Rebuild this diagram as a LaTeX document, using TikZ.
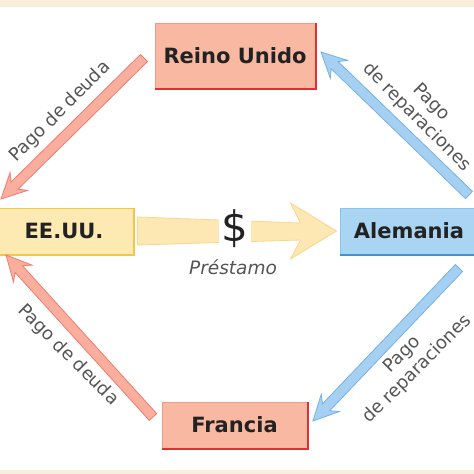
\documentclass[tikz,border=0pt]{standalone}
\usepackage{fontspec}
\setmainfont{DejaVu Sans}
\usetikzlibrary{calc}
\definecolor{beige}{HTML}{F7EFD9}
\definecolor{redfill}{HTML}{F8B8A2}
\definecolor{redline}{HTML}{F29A88}
\definecolor{redshadow}{HTML}{E42D35}
\definecolor{yelfill}{HTML}{FDE9B2}
\definecolor{yelline}{HTML}{F6C447}
\definecolor{bluefill}{HTML}{A9D4F2}
\definecolor{blueline}{HTML}{8CC2EC}
\definecolor{blueshadow}{HTML}{3F93D6}
\definecolor{rarrfill}{HTML}{F9AE9E}
\definecolor{rarrline}{HTML}{F07C6E}
\definecolor{barrfill}{HTML}{A6D0F2}
\definecolor{barrline}{HTML}{74B2E6}
\definecolor{yarrfill}{HTML}{FDE8B4}
\definecolor{yarrline}{HTML}{F9D68C}
\definecolor{labelgray}{HTML}{555555}
\definecolor{boxtext}{HTML}{222222}
\newcommand\fatarrow[4]{%
  \coordinate (fa-h) at ($(#2)!19pt!(#1)$);
  \coordinate (fa-b) at ($(#2)!25pt!(#1)$);
  \path[fill=#3,draw=#4,line width=0.8pt,line join=miter]
    ($(#1)!5pt!90:(#2)$) -- ($(fa-h)!5pt!90:(#2)$) -- ($(fa-b)!12.5pt!90:(#2)$)
    -- (#2) -- ($(fa-b)!12.5pt!-90:(#2)$) -- ($(fa-h)!5pt!-90:(#2)$)
    -- ($(#1)!5pt!-90:(#2)$) -- cycle;}
\tikzset{
  country/.style={font=\fontsize{21}{24}\selectfont\bfseries, text=boxtext,
    inner sep=0pt, line width=1pt},
  redbox/.style={country, fill=redfill, draw=redline},
  yelbox/.style={country, fill=yelfill, draw=yelline},
  bluebox/.style={country, fill=bluefill, draw=blueline},
  lbl/.style={font=\fontsize{18}{21}\selectfont, text=labelgray, align=center, inner sep=0pt}
}
\begin{document}
\begin{tikzpicture}[x=1pt,y=-1pt]
\useasboundingbox (0,0) rectangle (474,474);
\fill[white] (0,0) rectangle (474,474);
\fill[beige] (0,0) rectangle (474,7);
\fill[beige] (0,470) rectangle (474,474);
% boxes
\node[redbox, minimum width=160pt, minimum height=65pt] (ru) at (235,55.5) {Reino Unido};
\node[yelbox, minimum width=138pt, minimum height=46pt] (us) at (64,231) {EE.UU.};
\node[bluebox, minimum width=138pt, minimum height=46pt] (de) at (409,231) {Alemania};
\node[redbox, minimum width=145pt, minimum height=46pt] (fr) at (234.5,425) {Francia};
\draw[redshadow, line width=2pt] (ru.south west) -- (ru.south east) -- (ru.north east);
\draw[redshadow, line width=2pt] (fr.south west) -- (fr.south east) -- (fr.north east);
\draw[yelline, line width=2pt] (us.south west) -- (us.south east) -- (us.north east);
\draw[blueshadow, line width=2pt] (de.south west) -- (de.south east);
% loan arrow
\path[fill=yarrfill, draw=yarrline, line width=0.8pt, line join=miter]
  ($(us.east)+(4,-14)$) -- ($(us.east)+(167,-8)$) -- ($(us.east)+(157,-28)$)
  -- ($(de.west)+(-3,0)$) -- ($(us.east)+(157,28)$) -- ($(us.east)+(167,9)$)
  -- ($(us.east)+(4,14)$) -- cycle;
\node[font=\fontsize{42}{46}\selectfont, text=boxtext, fill=white, inner xsep=3pt,
  inner ysep=0pt, minimum height=27pt] (dollar) at (235,229) {\$};
\node[font=\fontsize{18.5}{21}\selectfont\itshape, text=labelgray, inner sep=0pt] (prest) at (233,267) {Préstamo};
% payment arrows
\coordinate (a1t) at (144,58);  \coordinate (a1h) at (1,199);
\coordinate (a2t) at (469,195); \coordinate (a2h) at (321,52);
\coordinate (a3t) at (153,417); \coordinate (a3h) at (6,255);
\coordinate (a4t) at (459,268); \coordinate (a4h) at (313,421);
\fatarrow{a1t}{a1h}{rarrfill}{rarrline}
\fatarrow{a2t}{a2h}{barrfill}{barrline}
\fatarrow{a3t}{a3h}{rarrfill}{rarrline}
\fatarrow{a4t}{a4h}{barrfill}{barrline}
\node[lbl, rotate=45] (l1) at (60,112) {Pago de deuda};
\node[lbl, rotate=-45] (l2) at (424,110) {Pago\\de reparaciones};
\node[lbl, rotate=-45] (l3) at (68,355) {Pago de deuda};
\node[lbl, rotate=45] (l4) at (410,362) {Pago\\de reparaciones};
\end{tikzpicture}
\end{document}
